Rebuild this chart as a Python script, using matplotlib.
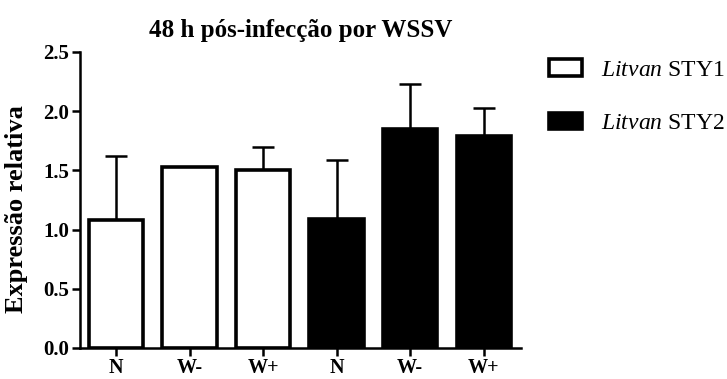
import matplotlib
matplotlib.use("Agg")
import matplotlib.pyplot as plt
from matplotlib.patches import Patch

plt.rcParams['font.family'] = 'Liberation Serif'
plt.rcParams['mathtext.fontset'] = 'custom'
plt.rcParams['mathtext.rm'] = 'Liberation Serif'
plt.rcParams['mathtext.it'] = 'Liberation Serif:italic'

labels = ["N", "W-", "W+", "N", "W-", "W+"]
means = [1.08, 1.53, 1.50, 1.09, 1.85, 1.79]
errors = [0.54, 0.0, 0.20, 0.50, 0.38, 0.24]
groups = ["STY1", "STY1", "STY1", "STY2", "STY2", "STY2"]
colors = {"STY1": "white", "STY2": "black"}

fig = plt.figure(figsize=(7.27, 3.79), dpi=100)
ax = fig.add_axes([0.110, 0.082, 0.607, 0.781])

x = list(range(len(means)))
ax.bar(x, means, width=0.74, color=[colors[g] for g in groups],
       edgecolor="black", linewidth=2.6, zorder=2)
ax.errorbar(x, means, yerr=[[0] * len(errors), errors], fmt="none",
            ecolor="black", elinewidth=1.8, capsize=8, capthick=1.8, zorder=1)

ax.set_xlim(-0.49, 5.51)
ax.set_ylim(0, 2.5)
ax.set_yticks([0.0, 0.5, 1.0, 1.5, 2.0, 2.5])
ax.set_yticklabels(["0.0", "0.5", "1.0", "1.5", "2.0", "2.5"])
ax.set_xticks(x)
ax.set_xticklabels(labels)
for s in ["top", "right"]:
    ax.spines[s].set_visible(False)
for s in ["left", "bottom"]:
    ax.spines[s].set_linewidth(1.8)
ax.tick_params(direction="out", length=6, width=1.8, labelsize=15, pad=2)
ax.tick_params(axis="x", labelsize=14.5, pad=1)
for t in ax.get_xticklabels() + ax.get_yticklabels():
    t.set_fontweight("bold")

ax.set_ylabel("Expressão relativa", fontsize=19, fontweight="bold")
ax.yaxis.set_label_coords(-0.118, 0.47)
ax.set_title("48 h pós-infecção por WSSV", fontsize=18, fontweight="bold", pad=11)

handles = [Patch(facecolor="white", edgecolor="black", linewidth=2.6),
           Patch(facecolor="black", edgecolor="black", linewidth=2.6)]
ax.legend(handles, [r"$\it{Litvan}$ STY1", r"$\it{Litvan}$ STY2"],
          loc="upper left", bbox_to_anchor=(1.063, 0.975), frameon=False,
          fontsize=17, handlelength=1.4, handleheight=0.68,
          labelspacing=1.35, handletextpad=0.8, borderpad=0, borderaxespad=0)

fig.savefig("out.png", dpi=100)
